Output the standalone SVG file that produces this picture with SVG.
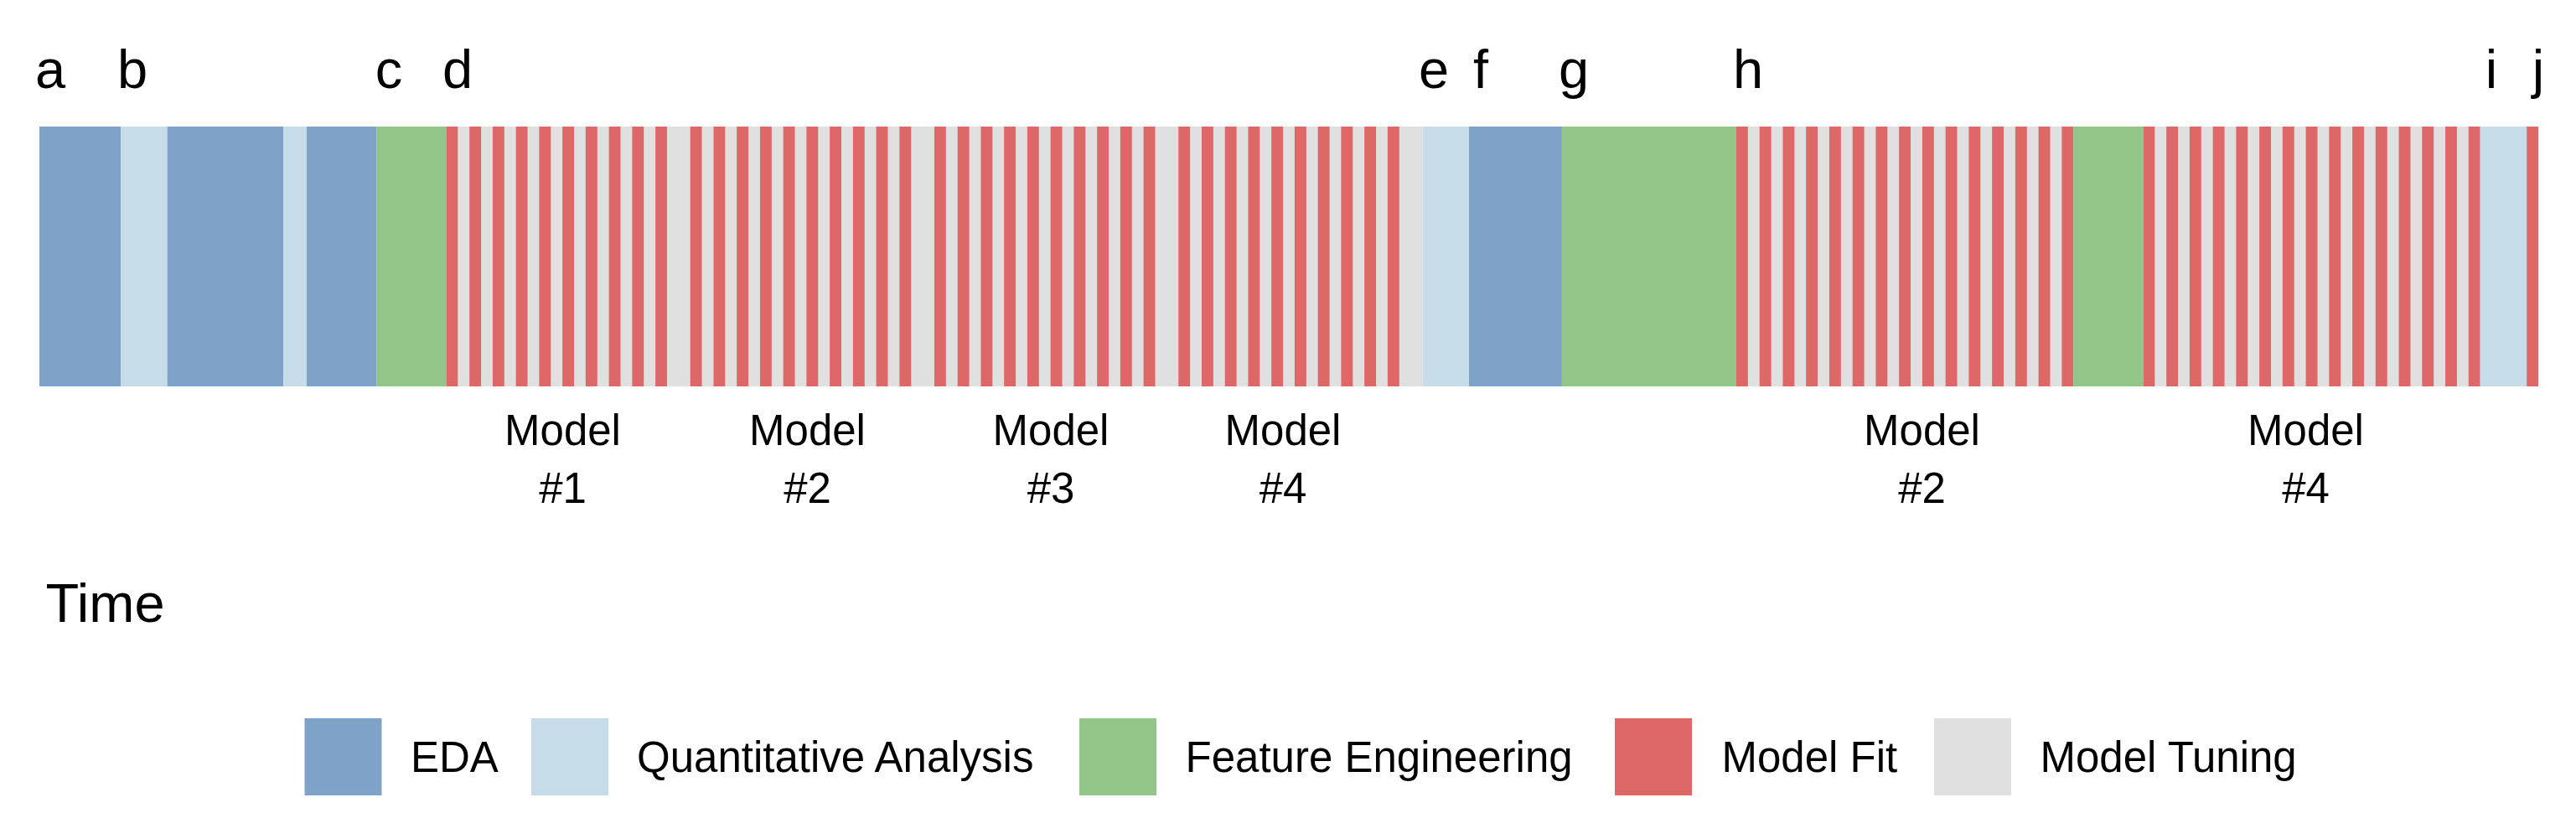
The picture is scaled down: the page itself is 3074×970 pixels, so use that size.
<svg xmlns="http://www.w3.org/2000/svg" width="3074" height="970" viewBox="0 0 3074 970">
<style>
.eda{fill:#7fa3c8}.qa{fill:#c6dce9}.fe{fill:#93c588}.fit{fill:#de6867}.tune{fill:#e0e0e0}
text{font-family:"Liberation Sans",Arial,Helvetica,sans-serif;fill:#000}
.lbl{font-size:65px;text-anchor:middle}
.mdl{font-size:51px;text-anchor:middle}
.leg{font-size:51px}
.time{font-size:65px}
</style>
<rect width="3074" height="970" fill="#fff"/>
<g id="timeline" transform="translate(47,151) scale(13.8698,1)">
  <g id="seg-a">
    <rect class="eda" x="0" width="7" height="310"/>
  </g>
  <g id="seg-b">
    <rect class="qa" x="7" width="4" height="310"/>
    <rect class="eda" x="11" width="10" height="310"/>
    <rect class="qa" x="21" width="2" height="310"/>
    <rect class="eda" x="23" width="6" height="310"/>
  </g>
  <g id="seg-c">
    <rect class="fe" x="29" width="6" height="310"/>
  </g>
  <g id="seg-d">
    <rect class="tune" x="35" width="84" height="310"/>
    <rect class="fit" x="35" width="1" height="310"/><rect class="fit" x="37" width="1" height="310"/><rect class="fit" x="39" width="1" height="310"/><rect class="fit" x="41" width="1" height="310"/><rect class="fit" x="43" width="1" height="310"/>
    <rect class="fit" x="45" width="1" height="310"/><rect class="fit" x="47" width="1" height="310"/><rect class="fit" x="49" width="1" height="310"/><rect class="fit" x="51" width="1" height="310"/><rect class="fit" x="53" width="1" height="310"/>
    <rect class="fit" x="56" width="1" height="310"/><rect class="fit" x="58" width="1" height="310"/><rect class="fit" x="60" width="1" height="310"/><rect class="fit" x="62" width="1" height="310"/><rect class="fit" x="64" width="1" height="310"/>
    <rect class="fit" x="66" width="1" height="310"/><rect class="fit" x="68" width="1" height="310"/><rect class="fit" x="70" width="1" height="310"/><rect class="fit" x="72" width="1" height="310"/><rect class="fit" x="74" width="1" height="310"/>
    <rect class="fit" x="77" width="1" height="310"/><rect class="fit" x="79" width="1" height="310"/><rect class="fit" x="81" width="1" height="310"/><rect class="fit" x="83" width="1" height="310"/><rect class="fit" x="85" width="1" height="310"/>
    <rect class="fit" x="87" width="1" height="310"/><rect class="fit" x="89" width="1" height="310"/><rect class="fit" x="91" width="1" height="310"/><rect class="fit" x="93" width="1" height="310"/><rect class="fit" x="95" width="1" height="310"/>
    <rect class="fit" x="98" width="1" height="310"/><rect class="fit" x="100" width="1" height="310"/><rect class="fit" x="102" width="1" height="310"/><rect class="fit" x="104" width="1" height="310"/><rect class="fit" x="106" width="1" height="310"/>
    <rect class="fit" x="108" width="1" height="310"/><rect class="fit" x="110" width="1" height="310"/><rect class="fit" x="112" width="1" height="310"/><rect class="fit" x="114" width="1" height="310"/><rect class="fit" x="116" width="1" height="310"/>
  </g>
  <g id="seg-e">
    <rect class="qa" x="119" width="4" height="310"/>
  </g>
  <g id="seg-f">
    <rect class="eda" x="123" width="8" height="310"/>
  </g>
  <g id="seg-g">
    <rect class="fe" x="131" width="15" height="310"/>
  </g>
  <g id="seg-h">
    <rect class="tune" x="146" width="29" height="310"/>
    <rect class="fit" x="146" width="1" height="310"/><rect class="fit" x="148" width="1" height="310"/><rect class="fit" x="150" width="1" height="310"/><rect class="fit" x="152" width="1" height="310"/><rect class="fit" x="154" width="1" height="310"/>
    <rect class="fit" x="156" width="1" height="310"/><rect class="fit" x="158" width="1" height="310"/><rect class="fit" x="160" width="1" height="310"/><rect class="fit" x="162" width="1" height="310"/><rect class="fit" x="164" width="1" height="310"/>
    <rect class="fit" x="166" width="1" height="310"/><rect class="fit" x="168" width="1" height="310"/><rect class="fit" x="170" width="1" height="310"/><rect class="fit" x="172" width="1" height="310"/><rect class="fit" x="174" width="1" height="310"/>
    <rect class="fe" x="175" width="6" height="310"/>
    <rect class="tune" x="181" width="29" height="310"/>
    <rect class="fit" x="181" width="1" height="310"/><rect class="fit" x="183" width="1" height="310"/><rect class="fit" x="185" width="1" height="310"/><rect class="fit" x="187" width="1" height="310"/><rect class="fit" x="189" width="1" height="310"/>
    <rect class="fit" x="191" width="1" height="310"/><rect class="fit" x="193" width="1" height="310"/><rect class="fit" x="195" width="1" height="310"/><rect class="fit" x="197" width="1" height="310"/><rect class="fit" x="199" width="1" height="310"/>
    <rect class="fit" x="201" width="1" height="310"/><rect class="fit" x="203" width="1" height="310"/><rect class="fit" x="205" width="1" height="310"/><rect class="fit" x="207" width="1" height="310"/><rect class="fit" x="209" width="1" height="310"/>
  </g>
  <g id="seg-i">
    <rect class="qa" x="210" width="4" height="310"/>
  </g>
  <g id="seg-j">
    <rect class="fit" x="214" width="1" height="310"/>
  </g>
</g>
<g id="letters">
  <text class="lbl" x="60" y="105">a</text>
  <text class="lbl" x="158" y="105">b</text>
  <text class="lbl" x="464" y="105">c</text>
  <text class="lbl" x="546" y="105">d</text>
  <text class="lbl" x="1711" y="105">e</text>
  <text class="lbl" x="1767" y="105">f</text>
  <text class="lbl" x="1878" y="105">g</text>
  <text class="lbl" x="2086" y="105">h</text>
  <text class="lbl" x="2973" y="105">i</text>
  <text class="lbl" x="3029" y="105">j</text>
</g>
<g id="model-labels">
  <text class="mdl" x="671.5" y="531">Model<tspan x="671.5" y="600">#1</tspan></text>
  <text class="mdl" x="963.5" y="531">Model<tspan x="963.5" y="600">#2</tspan></text>
  <text class="mdl" x="1254" y="531">Model<tspan x="1254" y="600">#3</tspan></text>
  <text class="mdl" x="1531" y="531">Model<tspan x="1531" y="600">#4</tspan></text>
  <text class="mdl" x="2293.5" y="531">Model<tspan x="2293.5" y="600">#2</tspan></text>
  <text class="mdl" x="2751.5" y="531">Model<tspan x="2751.5" y="600">#4</tspan></text>
</g>
<text id="time-label" class="time" x="54.5" y="742">Time</text>
<g id="legend">
  <g id="legend-eda"><rect class="eda" x="363.5" y="857" width="92" height="92"/><text class="leg" x="490" y="921">EDA</text></g>
  <g id="legend-qa"><rect class="qa" x="634" y="857" width="92" height="92"/><text class="leg" x="760" y="921">Quantitative Analysis</text></g>
  <g id="legend-fe"><rect class="fe" x="1288" y="857" width="92" height="92"/><text class="leg" x="1414.5" y="921">Feature Engineering</text></g>
  <g id="legend-fit"><rect class="fit" x="1927" y="857" width="92" height="92"/><text class="leg" x="2054.5" y="921">Model Fit</text></g>
  <g id="legend-tune"><rect class="tune" x="2308" y="857" width="92" height="92"/><text class="leg" x="2434.5" y="921">Model Tuning</text></g>
</g>
</svg>
